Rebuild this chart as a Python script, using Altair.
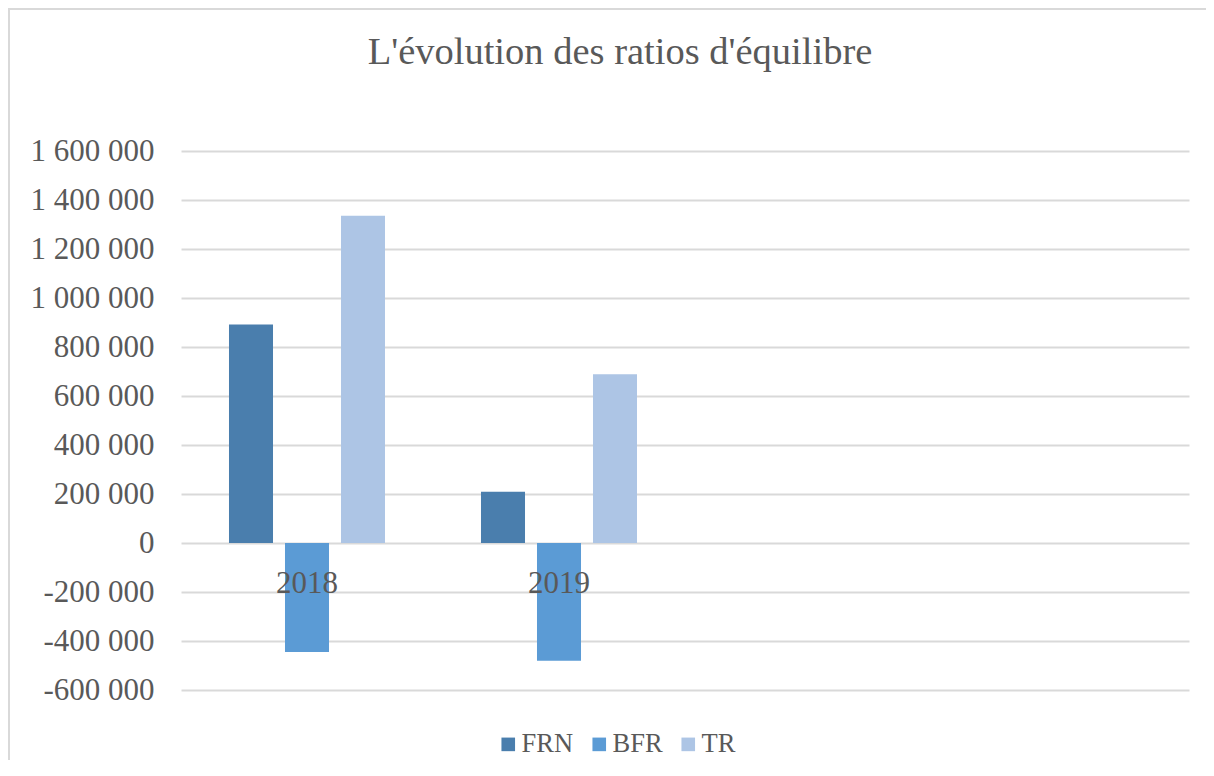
import altair as alt
import pandas as pd

# ---- data ----
years = ["2018", "2019"]
ratios = ["FRN", "BFR", "TR"]
frn = [892000, 209000]
bfr = [-445000, -481000]
tr = [1336000, 689000]
x_domain = ["2018", "2019", "c3", "c4"]
colors = ["#4A7EAD", "#5B9BD5", "#ADC5E5"]
y_ticks = [-600000, -400000, -200000, 0, 200000, 400000, 600000, 800000,
           1000000, 1200000, 1400000, 1600000]

rows = []
for i, y in enumerate(years):
    rows.append({"annee": y, "ratio": "FRN", "valeur": frn[i]})
    rows.append({"annee": y, "ratio": "BFR", "valeur": bfr[i]})
    rows.append({"annee": y, "ratio": "TR", "valeur": tr[i]})
df = pd.DataFrame(rows)

FONT = "Liberation Serif"
TXT = "#595959"
GRID = "#D9D9D9"

bars = alt.Chart(df).mark_bar().encode(
    x=alt.X(
        "annee:N",
        scale=alt.Scale(domain=x_domain, paddingInner=0, paddingOuter=0),
        axis=alt.Axis(
            title=None, domain=False, ticks=False, tickSize=0, grid=False,
            labelAngle=0, offset=-147, labelPadding=25, zindex=2,
            labelExpr="(datum.value == 'c3' || datum.value == 'c4') ? '' : datum.value",
            labelFont=FONT, labelFontSize=31, labelColor=TXT,
        ),
    ),
    xOffset=alt.XOffset(
        "ratio:N",
        scale=alt.Scale(domain=ratios, paddingInner=0.214, paddingOuter=0.857),
    ),
    y=alt.Y(
        "valeur:Q",
        scale=alt.Scale(domain=[-600000, 1600000], nice=False, zero=False),
        axis=alt.Axis(
            title=None, domain=False, ticks=False, tickSize=0,
            values=y_ticks, grid=True, gridColor=GRID, gridWidth=2,
            labelPadding=27, labelFont=FONT, labelFontSize=31, labelColor=TXT,
            labelExpr="replace(replace(format(datum.value, ','), regexp(',', 'g'), ' '), '\u2212', '-')",
        ),
    ),
    color=alt.Color(
        "ratio:N",
        scale=alt.Scale(domain=ratios, range=colors),
        legend=alt.Legend(
            title=None, orient="none", direction="horizontal",
            legendX=314, legendY=580,
            symbolType="square", symbolSize=185, symbolStrokeWidth=0,
            labelFont=FONT, labelFontSize=26.5, labelColor=TXT,
            labelOffset=0, columnPadding=12,
        ),
    ),
)

edge = pd.DataFrame({"k": [0]})
frame_left = alt.Chart(edge).mark_rule(color=GRID, strokeWidth=2).encode(
    x=alt.value(-172), y=alt.value(-143), y2=alt.value(700),
)
frame_top = alt.Chart(edge).mark_rule(color=GRID, strokeWidth=2).encode(
    x=alt.value(-173), x2=alt.value(1100), y=alt.value(-142),
)

chart = alt.layer(frame_left, frame_top, bars).properties(
    width=1008,
    height=539,
    autosize=alt.AutoSizeParams(type="none"),
    padding={"left": 173, "top": 143, "right": 17, "bottom": 70},
    title=alt.TitleParams(
        "L'évolution des ratios d'équilibre",
        font=FONT, fontSize=38.5, fontWeight="normal", color=TXT,
        anchor="middle", baseline="alphabetic", dx=-65, dy=95, offset=0,
    ),
).configure_view(stroke=None)

chart.save("out.html", embed_options={"renderer": "svg", "actions": False})
